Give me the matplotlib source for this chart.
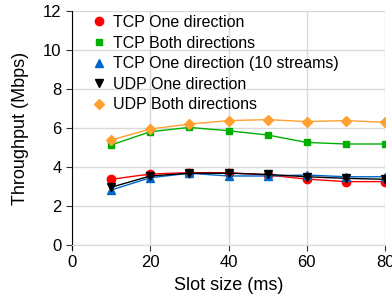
import matplotlib
matplotlib.use("Agg")
import matplotlib.pyplot as plt
from matplotlib.lines import Line2D

plt.rcParams['font.family'] = ['Liberation Sans', 'DejaVu Sans']

# slot size (ms)
slot = [10, 20, 30, 40, 50, 60, 70, 80]

# throughput (Mbps)
tcp_one = [3.37, 3.64, 3.71, 3.71, 3.59, 3.38, 3.25, 3.25]
tcp_both = [5.13, 5.81, 6.03, 5.86, 5.64, 5.26, 5.18, 5.18]
tcp_one_10 = [2.82, 3.45, 3.68, 3.54, 3.54, 3.59, 3.50, 3.50]
udp_one = [2.96, 3.54, 3.68, 3.68, 3.62, 3.50, 3.42, 3.37]
udp_both = [5.38, 5.95, 6.20, 6.38, 6.43, 6.33, 6.38, 6.29]

x_ticks = [0, 20, 40, 60, 80]
y_ticks = [0, 2, 4, 6, 8, 10, 12]

fig = plt.figure(figsize=(3.92, 3.0), dpi=100)
ax = fig.add_axes([0.1837, 0.1833, 0.7985, 0.78])

series = [
    (tcp_one, 'o', '#ff0000', 6, 'TCP One direction'),
    (tcp_both, 's', '#00b000', 5, 'TCP Both directions'),
    (tcp_one_10, '^', '#0066cc', 6, 'TCP One direction (10 streams)'),
    (udp_one, 'v', '#000000', 6, 'UDP One direction'),
    (udp_both, 'D', '#ffa030', 5, 'UDP Both directions'),
]
handles = []
for vals, mk, col, ms, lab in series:
    ax.plot(slot, vals, '-', marker=mk, color=col, ms=ms, lw=1, zorder=3)
    handles.append(Line2D([], [], ls='none', marker=mk, color=col, ms=ms, label=lab))

ax.set_xlim(0, 80)
ax.set_ylim(0, 12)
ax.set_xticks(x_ticks)
ax.set_yticks(y_ticks)
ax.grid(True, color='#d9d9d9', lw=1)
ax.set_axisbelow(True)

for s in ['top', 'right']:
    ax.spines[s].set_visible(False)
ax.spines['bottom'].set_color('#d9d9d9')
ax.spines['left'].set_color('black')
ax.spines['left'].set_bounds(-0.2, 12)
ax.tick_params(axis='both', labelsize=12, length=4, color='#333333')
ax.tick_params(axis='x', pad=3)

ax.set_xlabel('Slot size (ms)', fontsize=13, labelpad=5)
ax.set_ylabel('Throughput (Mbps)', fontsize=13, labelpad=10)

ax.legend(handles=handles, loc='upper left', frameon=False, fontsize=11.5,
          handletextpad=0.3, handlelength=1.2, labelspacing=0.35,
          borderaxespad=0.0, bbox_to_anchor=(0.035, 1.01))

fig.savefig('out.png', dpi=100)
